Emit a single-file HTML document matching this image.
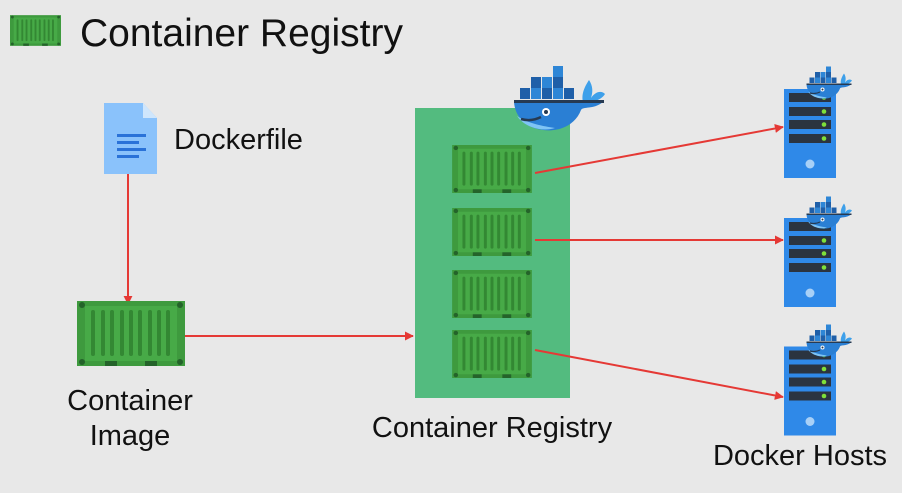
<!DOCTYPE html>
<html><head><meta charset="utf-8"><style>
html,body{margin:0;padding:0;background:#e8e8e8;}
svg{display:block;font-family:"Liberation Sans",sans-serif;}
</style></head><body>
<svg width="902" height="493" viewBox="0 0 902 493" xmlns="http://www.w3.org/2000/svg">
<defs>
<symbol id="cont" viewBox="0 0 108 65">
<rect x="0" y="0" width="108" height="65" fill="#3e9a3e"/>
<rect x="8" y="5" width="92" height="55" fill="#47aa47"/>
<g fill="#338833">
<rect x="14" y="9" width="4" height="46" rx="2"/><rect x="24" y="9" width="4" height="46" rx="2"/><rect x="33" y="9" width="4" height="46" rx="2"/><rect x="43" y="9" width="4" height="46" rx="2"/><rect x="52" y="9" width="4" height="46" rx="2"/><rect x="61" y="9" width="4" height="46" rx="2"/><rect x="71" y="9" width="4" height="46" rx="2"/><rect x="80" y="9" width="4" height="46" rx="2"/><rect x="89" y="9" width="4" height="46" rx="2"/>
</g>
<g fill="#24632a"><circle cx="5" cy="4" r="3"/><circle cx="103" cy="4" r="3"/><circle cx="5" cy="61" r="3"/><circle cx="103" cy="61" r="3"/>
<rect x="28" y="60" width="12" height="5"/><rect x="68" y="60" width="12" height="5"/></g>
</symbol>
<symbol id="whale" viewBox="0 0 92 66">
<g fill="#1f5fa8"><rect x="40" y="0" width="10" height="11" fill="#2e86d6"/>
<rect x="18" y="11" width="10" height="11"/><rect x="29" y="11" width="10" height="11" fill="#2e86d6"/><rect x="40" y="11" width="10" height="11"/>
<rect x="7" y="22" width="10" height="11"/><rect x="18" y="22" width="10" height="11" fill="#2e86d6"/><rect x="29" y="22" width="10" height="11"/><rect x="40" y="22" width="10" height="11" fill="#2e86d6"/><rect x="51" y="22" width="10" height="11"/></g>
<path d="M1 36 H90 C80 44 70 40 68 44 C62 60 45 66 30 64 C12 62 2 50 1 36Z" fill="#2a7fd4"/>
<path d="M4 50 C12 62 30 66 42 62 C30 60 16 58 4 50Z" fill="#7fc4f5"/>
<path d="M70 36 C68 28 72 20 76 14 C80 20 80 26 78 32 C82 26 88 24 92 28 C88 34 82 36 70 36Z" fill="#3ea0ea"/>
<rect x="1" y="34" width="90" height="3" fill="#263a52"/>
<circle cx="33" cy="46" r="4" fill="#fff"/><circle cx="33" cy="46" r="2" fill="#263a52"/>
<path d="M8 53 Q18 56 28 51" stroke="#263a52" stroke-width="2.5" fill="none"/>
</symbol>
<symbol id="server" viewBox="0 0 52 89">
<rect width="52" height="89" fill="#2f89e8"/>
<g fill="#2b3440"><rect x="5" y="4" width="42" height="9"/><rect x="5" y="18" width="42" height="9"/><rect x="5" y="31" width="42" height="9"/><rect x="5" y="45" width="42" height="9"/></g>
<g fill="#7ee03a"><circle cx="40" cy="8.5" r="2.3"/><circle cx="40" cy="22.5" r="2.3"/><circle cx="40" cy="35.5" r="2.3"/><circle cx="40" cy="49.5" r="2.3"/></g>
<circle cx="26" cy="75" r="4.5" fill="#a8d0f7"/>
</symbol>
<marker id="ar" viewBox="0 0 10 10" refX="9" refY="5" markerWidth="4.5" markerHeight="4.5" orient="auto"><path d="M0 0 L10 5 L0 10Z" fill="#e53935"/></marker>
</defs>

<use href="#cont" x="10" y="15" width="51" height="31"/>
<text x="80" y="46" font-size="39" fill="#111">Container Registry</text>

<path d="M104 103 H143 L157 118 V174 H104Z" fill="#8ac2fb"/>
<path d="M143 103 L157 118 H143Z" fill="#cfe6fc"/>
<g fill="#2a72d8"><rect x="117" y="134" width="29" height="3"/><rect x="117" y="141" width="22" height="3"/><rect x="117" y="148" width="29" height="3"/><rect x="117" y="155" width="22" height="3"/></g>
<text x="174" y="149" font-size="29" fill="#111">Dockerfile</text>

<line x1="128" y1="174" x2="128" y2="304" stroke="#e53935" stroke-width="2" marker-end="url(#ar)"/>
<use href="#cont" x="77" y="301" width="108" height="65"/>
<text x="130" y="410" font-size="29" fill="#111" text-anchor="middle">Container</text>
<text x="130" y="445" font-size="29" fill="#111" text-anchor="middle">Image</text>
<line x1="185" y1="336" x2="413" y2="336" stroke="#e53935" stroke-width="2" marker-end="url(#ar)"/>

<rect x="415" y="108" width="155" height="290" fill="#53bb7f"/>
<use href="#whale" x="513" y="66" width="92" height="66"/>
<use href="#cont" x="452" y="145" width="80" height="48"/>
<use href="#cont" x="452" y="208" width="80" height="48"/>
<use href="#cont" x="452" y="270" width="80" height="48"/>
<use href="#cont" x="452" y="330" width="80" height="48"/>
<text x="492" y="437" font-size="29" fill="#111" text-anchor="middle">Container Registry</text>

<line x1="535" y1="173" x2="783" y2="127" stroke="#e53935" stroke-width="2" marker-end="url(#ar)"/>
<line x1="535" y1="240" x2="783" y2="240" stroke="#e53935" stroke-width="2" marker-end="url(#ar)"/>
<line x1="535" y1="350" x2="783" y2="397" stroke="#e53935" stroke-width="2" marker-end="url(#ar)"/>

<use href="#server" x="784" y="89" width="52" height="89"/>
<use href="#server" x="784" y="218" width="52" height="89"/>
<use href="#server" x="784" y="346" width="52" height="90"/>
<use href="#whale" x="806" y="66" width="46" height="34"/>
<use href="#whale" x="806" y="196" width="46" height="34"/>
<use href="#whale" x="806" y="324" width="46" height="34"/>
<text x="800" y="465" font-size="29" fill="#111" text-anchor="middle">Docker Hosts</text>
</svg>
</body></html>
